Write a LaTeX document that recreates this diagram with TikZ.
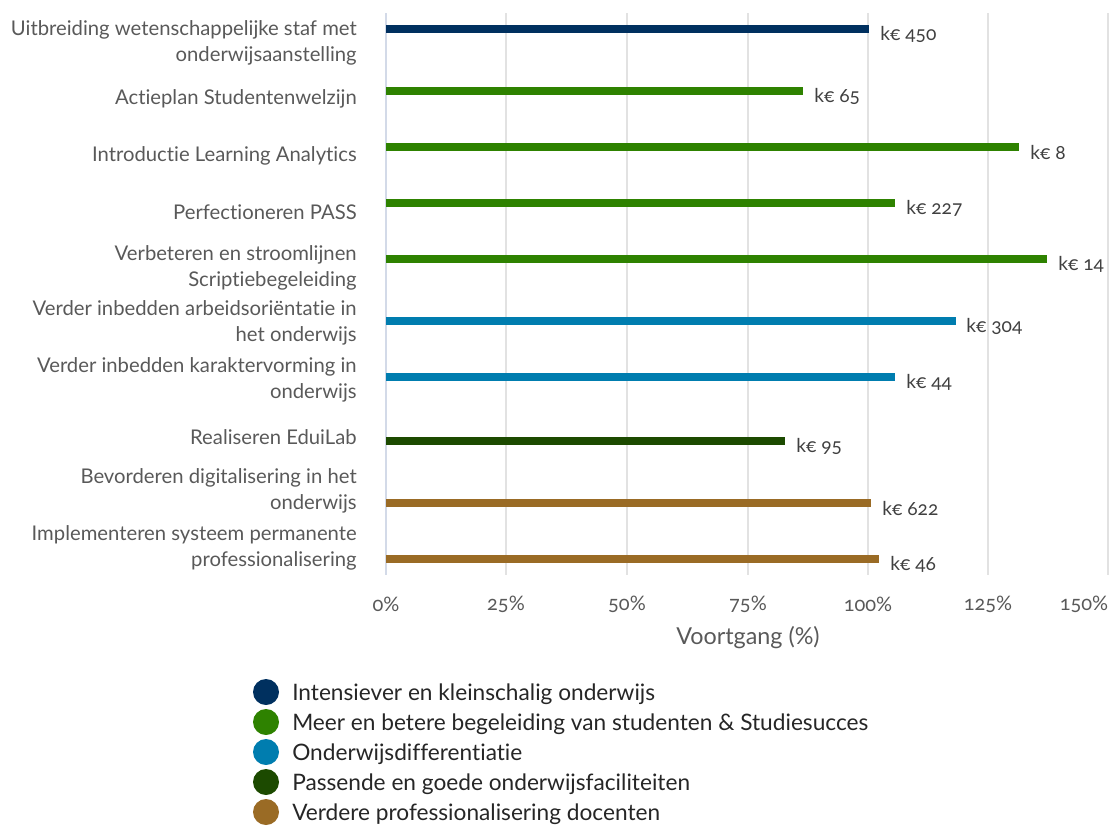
\documentclass[tikz,border=0pt]{standalone}
\usepackage{fontspec}
\setmainfont{Lato}[Numbers=OldStyle, Ligatures=NoCommon]
\usetikzlibrary{positioning}

\definecolor{navyblue}{HTML}{00305F}
\definecolor{leafgreen}{HTML}{2E8200}
\definecolor{seablue}{HTML}{007DAF}
\definecolor{darkgreen}{HTML}{1C4A00}
\definecolor{ochre}{HTML}{9A6B25}
\definecolor{labelgray}{HTML}{595959}
\definecolor{valgray}{HTML}{404040}
\definecolor{gridgray}{HTML}{E2E2E2}
\definecolor{axisblue}{HTML}{D3DAE8}

\begin{document}
\begin{tikzpicture}[x=0.75pt, y=-0.75pt,
  cat/.style = {anchor=east, align=right, inner sep=0pt, text=labelgray,
                font=\fontsize{15.2}{19.5}\selectfont},
  val/.style = {anchor=west, inner sep=0pt, text=valgray,
                font=\fontsize{14.4}{17}\selectfont},
  tick/.style = {inner sep=0pt, text=labelgray, font=\fontsize{15}{17}\selectfont},
  bar/.style = {line width=6pt},
  dot/.style = {circle, inner sep=0pt, minimum size=19.5pt},
  leg/.style = {anchor=west, inner sep=0pt, text=black!85,
                font=\fontsize{17}{20}\selectfont}]
\useasboundingbox (0,0) rectangle (1110,828);

% grid and axis
\foreach \x in {506,627,748,868,988,1108}
  \draw[gridgray, line width=1.5pt] (\x,13) -- (\x,575);
\draw[axisblue, line width=1.5pt] (386,13) -- (386,575);

% categories
\node[cat] (c1) at (357,43) {Uitbreiding wetenschappelijke staf met\\onderwijsaanstelling};
\node[cat] (c2) at (357,99) {Actieplan Studentenwelzijn};
\node[cat] (c3) at (357,156) {Introductie Learning Analytics};
\node[cat] (c4) at (357,212) {Perfectioneren PASS};
\node[cat] (c5) at (357,268) {Verbeteren en stroomlijnen\\Scriptiebegeleiding};
\node[cat] (c6) at (357,323) {Verder inbedden arbeidsoriëntatie in\\het onderwijs};
\node[cat] (c7) at (357,380) {Verder inbedden karaktervorming in\\onderwijs};
\node[cat] (c8) at (357,437) {Realiseren EduiLab};
\node[cat] (c9) at (357,491) {Bevorderen digitalisering in het\\onderwijs};
\node[cat] (c10) at (357,548) {Implementeren systeem permanente\\professionalisering};

% bars
\coordinate (e1) at (869,29);
\coordinate (e2) at (803,91);
\coordinate (e3) at (1019,147);
\coordinate (e4) at (895,203);
\coordinate (e5) at (1047,259);
\coordinate (e6) at (956,321);
\coordinate (e7) at (895,377);
\coordinate (e8) at (785,441);
\coordinate (e9) at (871,503);
\coordinate (e10) at (879,559);
\draw[bar, navyblue] (386,29) -- (e1);
\draw[bar, leafgreen] (386,91) -- (e2);
\draw[bar, leafgreen] (386,147) -- (e3);
\draw[bar, leafgreen] (386,203) -- (e4);
\draw[bar, leafgreen] (386,259) -- (e5);
\draw[bar, seablue] (386,321) -- (e6);
\draw[bar, seablue] (386,377) -- (e7);
\draw[bar, darkgreen] (386,441) -- (e8);
\draw[bar, ochre] (386,503) -- (e9);
\draw[bar, ochre] (386,559) -- (e10);

% values
\node[val] (v1) at (880,34) {k€ 450};
\node[val] (v2) at (814,96) {k€ 65};
\node[val] (v3) at (1030,152) {k€ 8};
\node[val] (v4) at (906,208) {k€ 227};
\node[val] (v5) at (1058,264) {k€ 14};
\node[val] (v6) at (966,326) {k€ 304};
\node[val] (v7) at (906,382) {k€ 44};
\node[val] (v8) at (796,446) {k€ 95};
\node[val] (v9) at (882,508) {k€ 622};
\node[val] (v10) at (890,564) {k€ 46};

% x axis
\node[tick] (t0) at (386,604) {0\%};
\node[tick] (t25) at (506,604) {25\%};
\node[tick] (t50) at (627,604) {50\%};
\node[tick] (t75) at (748,604) {75\%};
\node[tick] (t100) at (868,604) {100\%};
\node[tick] (t125) at (988,604) {125\%};
\node[tick] (t150) at (1084,604) {150\%};
\node[tick, font=\fontsize{17.5}{20}\selectfont] (xlab) at (748,638) {Voortgang (\%)};

% legend
\node[dot, fill=navyblue] (d1) at (266,692) {};
\node[dot, fill=leafgreen] (d2) at (266,722) {};
\node[dot, fill=seablue] (d3) at (266,752) {};
\node[dot, fill=darkgreen] (d4) at (266,782) {};
\node[dot, fill=ochre] (d5) at (266,812) {};
\node[leg] (l1) at (292,694) {Intensiever en kleinschalig onderwijs};
\node[leg] (l2) at (292,724) {Meer en betere begeleiding van studenten \& Studiesucces};
\node[leg] (l3) at (292,754) {Onderwijsdifferentiatie};
\node[leg] (l4) at (292,784) {Passende en goede onderwijsfaciliteiten};
\node[leg] (l5) at (292,814) {Verdere professionalisering docenten};
\end{tikzpicture}
\end{document}
